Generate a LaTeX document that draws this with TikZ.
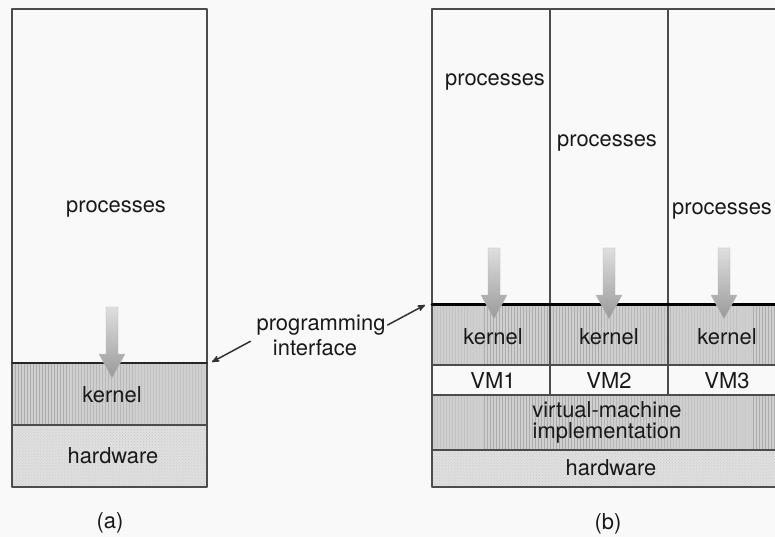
\documentclass[tikz,border=0pt]{standalone}
\usepackage{fontspec}
\setmainfont{TeX Gyre Heros}
\usepackage{tikz}
\usetikzlibrary{arrows}
\usetikzlibrary{patterns}

\begin{document}
\begin{tikzpicture}[line cap=round,line join=round,>=stealth',x=1bp,y=-1bp,
    lbl/.style={font=\fontsize{22}{26}\selectfont,text=black!90,inner sep=0pt},
    kern/.style={fill=gray!38,postaction={pattern=vertical lines,pattern color=gray!65}},
    hw/.style={fill=gray!24,postaction={pattern=crosshatch dots,pattern color=gray!45}},
    edge/.style={draw=black!70,line width=1.1bp}]
        \useasboundingbox (0,0) rectangle (775,537);
        \fill[gray!5] (0,0) rectangle (775,537);
        \clip (0,0) rectangle (775,537);
        \fill[kern] (12,363) rectangle (207,425);
        \fill[hw] (12,425) rectangle (207,487);
        \draw[edge] (12,9) rectangle (207,487);
        \draw[edge] (12,425) -- (207,425);
        \draw[black!85,line width=1.6bp] (12,363) -- (207,363);
        \fill[kern] (432,304) rectangle (790,365);
        \fill[kern] (432,395) rectangle (790,450);
        \fill[hw] (432,450) rectangle (790,487);
        \draw[edge] (432,9) rectangle (790,487);
        \foreach \y in {365,395,450}
        \draw[edge] (432,\y) -- (790,\y);
        \foreach \x in {550,668}
        \draw[edge] (\x,9) -- (\x,395);
        \draw[black,line width=3bp] (432,304) -- (790,304);
        \foreach \ax/\ay in {112/307,494/248,609/248,724/248}
        \shade[top color=gray!25,bottom color=gray!80,draw=gray!55,line width=0.4bp] (\ax-6,\ay) -- (\ax+6,\ay) -- (\ax+6,\ay+47) -- (\ax+13,\ay+47) -- (\ax,\ay+71) -- (\ax-13,\ay+47) -- (\ax-6,\ay+47) -- cycle;
        \node[lbl] (procA) at (116,209) {processes};
        \node[lbl] (kernA) at (112,395) {kernel};
        \node[lbl] (hwA) at (113,456) {hardware};
        \node[lbl] (capA) at (110,523) {(a)};
        \node[lbl] (prog) at (321,325) {programming};
        \node[lbl] (intf) at (315,348) {interface};
        \coordinate (apiA) at (212,362);
        \coordinate (apiB) at (425,305);
        \draw[->,black!80,line width=1.5bp] ([xshift=-6bp,yshift=-6bp]prog.south west) -- (apiA);
        \draw[->,black!80,line width=1.5bp] ([xshift=2bp]prog.east) -- (apiB);
        \node[lbl] (procB1) at (495,82) {processes};
        \node[lbl] (procB2) at (607,143) {processes};
        \node[lbl] (procB3) at (722,211) {processes};
        \foreach \k/\x in {1/493,2/609,3/727} {
        \node[lbl] (kern\k) at (\x,337) {kernel};
        \node[lbl] (vm\k) at (\x,381) {VM\k};
        }
        \node[lbl,align=center,font=\fontsize{22}{21}\selectfont] (vmi) at (607,422) {virtual-machine\\implementation};
        \node[lbl] (hwB) at (611,468) {hardware};
        \node[lbl] (capB) at (608,524) {(b)};
\end{tikzpicture}
\end{document}
